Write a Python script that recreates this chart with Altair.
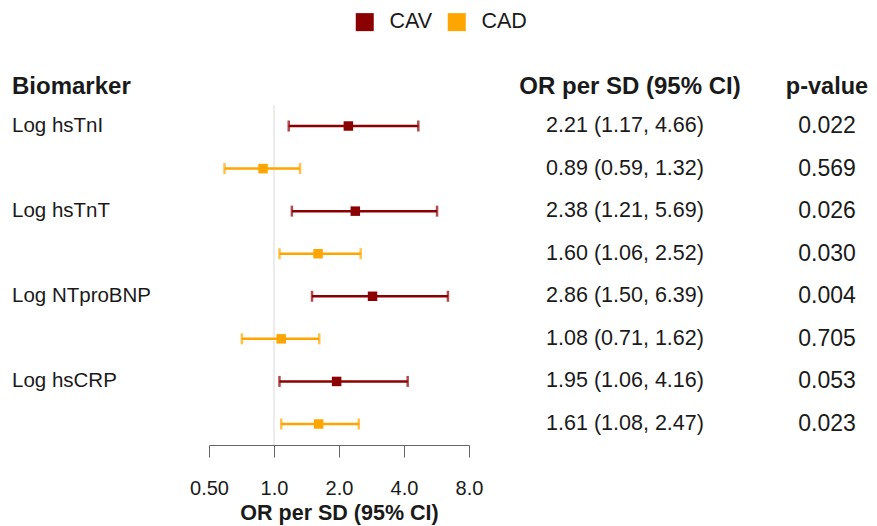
import altair as alt
import pandas as pd

biomarkers = ["Log hsTnI", "", "Log hsTnT", "", "Log NTproBNP", "", "Log hsCRP", ""]
groups = ["CAV", "CAD", "CAV", "CAD", "CAV", "CAD", "CAV", "CAD"]
or_vals = [2.21, 0.89, 2.38, 1.60, 2.86, 1.08, 1.95, 1.61]
ci_lo = [1.17, 0.59, 1.21, 1.06, 1.50, 0.71, 1.06, 1.08]
ci_hi = [4.66, 1.32, 5.69, 2.52, 6.39, 1.62, 4.16, 2.47]
p_vals = ["0.022", "0.569", "0.026", "0.030", "0.004", "0.705", "0.053", "0.023"]
axis_ticks = [0.5, 1, 2, 4, 8]

df = pd.DataFrame({
    "row": list(range(len(or_vals))),
    "biomarker": biomarkers,
    "group": groups,
    "or": or_vals,
    "lo": ci_lo,
    "hi": ci_hi,
    "p": p_vals,
})
df["ci_text"] = [f"{o:.2f} ({l:.2f}, {h:.2f})" for o, l, h in zip(or_vals, ci_lo, ci_hi)]

FONT = "Liberation Sans"
TXT = "#1a1a1a"

xscale = alt.Scale(type="log", base=2, domain=[0.5, 8], range=[201, 461], nice=False)
yscale = alt.Scale(domain=[0, 7], range=[118, 416])
cscale = alt.Scale(domain=["CAV", "CAD"], range=["#8B0000", "#FFA500"])
color_enc = alt.Color("group:N", scale=cscale,
                      legend=alt.Legend(title=None, orient="none", legendX=346, legendY=3,
                                        direction="horizontal", symbolType="square",
                                        symbolSize=324, symbolStrokeWidth=0, symbolOpacity=1,
                                        labelFontSize=21.5,
                                        labelFont=FONT, labelColor=TXT, labelOffset=14,
                                        columnPadding=13, padding=0))

base = alt.Chart(df)

ref = alt.Chart(pd.DataFrame({"v": [1]})).mark_rule(color="#d9d9d9", strokeWidth=1).encode(
    x=alt.X("v:Q", scale=xscale,
            axis=alt.Axis(values=axis_ticks, title="OR per SD (95% CI)",
                          labelExpr="datum.value < 1 ? format(datum.value, '.2f') : format(datum.value, '.1f')",
                          grid=False, domainColor="#666666", tickColor="#666666",
                          tickSize=12, labelFontSize=20, labelFont=FONT, labelColor=TXT,
                          labelPadding=21, titleFont=FONT, titleFontSize=21.5, titleFontWeight="bold",
                          titleColor=TXT, titlePadding=4, labelFlush=False)),
    y=alt.value(97), y2=alt.value(437),
)

lines = base.mark_rule(strokeWidth=2.5).encode(
    x=alt.X("lo:Q", scale=xscale),
    x2="hi:Q",
    y=alt.Y("row:Q", scale=yscale, axis=None),
    color=color_enc,
)
cap_lo = base.mark_tick(orient="vertical", size=11, thickness=2.5).encode(
    x=alt.X("lo:Q", scale=xscale),
    y=alt.Y("row:Q", scale=yscale),
    color=color_enc,
)
cap_hi = base.mark_tick(orient="vertical", size=11, thickness=2.5).encode(
    x=alt.X("hi:Q", scale=xscale),
    y=alt.Y("row:Q", scale=yscale),
    color=color_enc,
)
pts = base.mark_square(size=90, opacity=1).encode(
    x=alt.X("or:Q", scale=xscale),
    y=alt.Y("row:Q", scale=yscale),
    color=color_enc,
)

lab = base.mark_text(align="left", baseline="middle", font=FONT, fontSize=20.5, color=TXT).encode(
    x=alt.value(4), y=alt.Y("row:Q", scale=yscale), text="biomarker:N")
ci = base.mark_text(align="center", baseline="middle", font=FONT, fontSize=21.5, color=TXT).encode(
    x=alt.value(617), y=alt.Y("row:Q", scale=yscale), text="ci_text:N")
pv = base.mark_text(align="center", baseline="middle", font=FONT, fontSize=23, color=TXT).encode(
    x=alt.value(819), y=alt.Y("row:Q", scale=yscale), text="p:N")

hdr = pd.DataFrame({"t": ["Biomarker", "OR per SD (95% CI)", "p-value"]})
h1 = alt.Chart(hdr.iloc[[0]]).mark_text(align="left", baseline="middle", font=FONT, fontSize=24,
                                        fontWeight="bold", color=TXT).encode(
    x=alt.value(4), y=alt.value(79), text="t:N")
h2 = alt.Chart(hdr.iloc[[1]]).mark_text(align="center", baseline="middle", font=FONT, fontSize=24,
                                        fontWeight="bold", color=TXT).encode(
    x=alt.value(622), y=alt.value(79), text="t:N")
h3 = alt.Chart(hdr.iloc[[2]]).mark_text(align="center", baseline="middle", font=FONT, fontSize=23.5,
                                        fontWeight="bold", color=TXT).encode(
    x=alt.value(819), y=alt.value(79), text="t:N")

chart = alt.layer(ref, lines, cap_lo, cap_hi, pts, lab, ci, pv, h1, h2, h3).properties(
    width=861, height=437,
    background="white",
    autosize=alt.AutoSizeParams(type="none"),
    padding={"left": 0, "top": 0, "right": 0, "bottom": 86},
).configure_view(strokeWidth=0, stroke=None)

chart.save("out.html", embed_options={"renderer": "svg", "actions": False})
